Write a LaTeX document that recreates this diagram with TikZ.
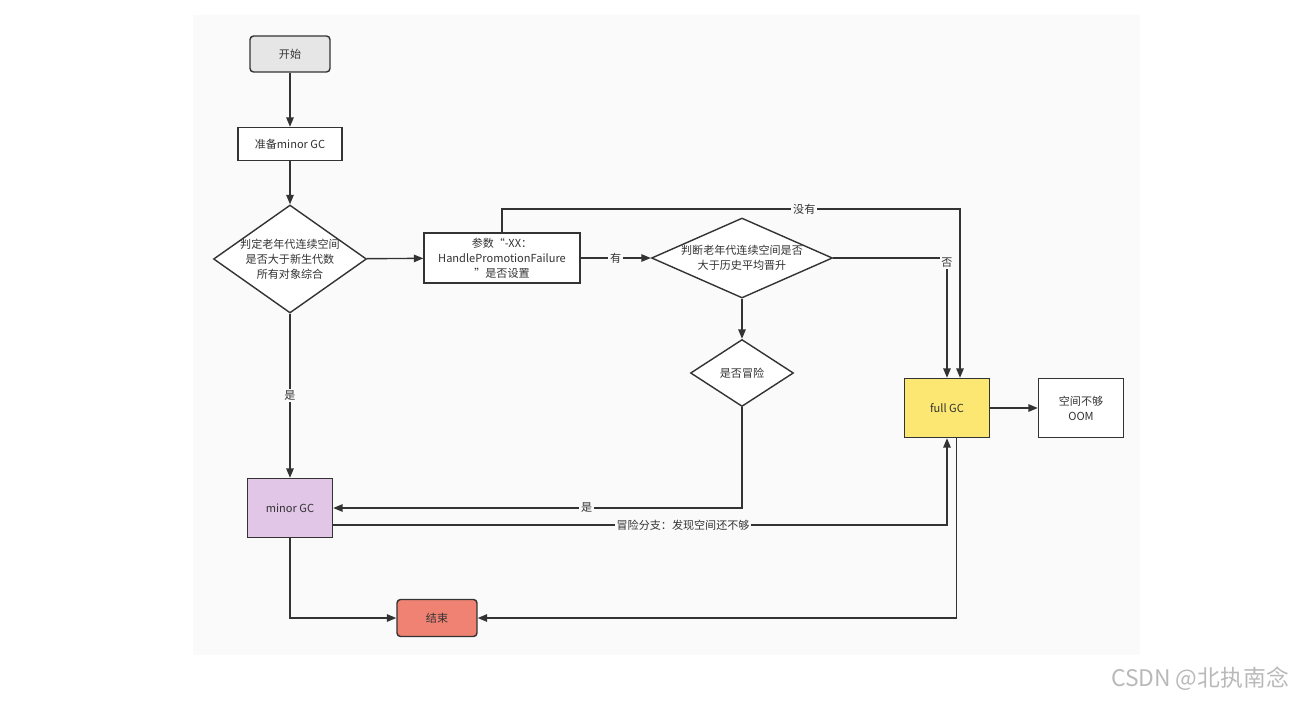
\documentclass[tikz,border=0pt]{standalone}
\usepackage{fontspec}
\setmainfont{Noto Sans CJK SC}
\usepackage{tikz}
\usetikzlibrary{positioning,calc,arrows.meta,shapes.geometric}
\definecolor{ink}{HTML}{333333}
\definecolor{paper}{HTML}{FAFAFA}
\definecolor{startgray}{HTML}{E6E6E6}
\definecolor{minorlilac}{HTML}{E1C6E8}
\definecolor{fullyellow}{HTML}{FBE772}
\definecolor{endsalmon}{HTML}{EF8272}
\tikzset{>={Triangle[length=1.9mm,width=1.5mm]}}

\begin{document}
\begin{tikzpicture}[x=0.02cm,y=-0.02cm,
  font=\fontsize{6.3}{8.5}\selectfont,
  every node/.style={text=ink},
  box/.style={draw=ink,line width=0.8pt,rectangle,inner sep=0pt,align=center},
  dia/.style={draw=ink,line width=0.8pt,diamond,inner sep=0pt,fill=white},
  lbl/.style={fill=paper,inner sep=1pt},
  flow/.style={draw=ink,line width=0.8pt,->}]
\useasboundingbox (0,0) rectangle (1295,700);
\fill[paper] (193,15) rectangle (1140,655);

\node[box,rounded corners=2pt,fill=startgray,minimum width=1.6cm,minimum height=0.72cm] (start) at (290,54) {开始};
\node[box,fill=white,minimum width=2.08cm,minimum height=0.66cm] (prep) at (290,144) {准备minor GC};
\node[dia,minimum width=3.06cm,minimum height=2.16cm,
  label={[align=center]center:判定老年代连续空间\\是否大于新生代数\\所有对象综合}] (cmpall) at (290,259) {};
\node[box,fill=white,minimum width=3.12cm,minimum height=1cm] (param) at (502,258) {参数“-XX：\\HandlePromotionFailure\\”是否设置};
\node[dia,minimum width=3.62cm,minimum height=1.6cm,
  label={[align=center]center:判断老年代连续空间是否\\大于历史平均晋升}] (cmpavg) at (742,258) {};
\node[dia,minimum width=2.06cm,minimum height=1.34cm,
  label={center:是否冒险}] (risk) at (742,373) {};
\node[box,fill=fullyellow,minimum width=1.7cm,minimum height=1.18cm] (full) at (947,408) {full GC};
\node[box,fill=white,minimum width=1.7cm,minimum height=1.18cm] (oom) at (1081,408) {空间不够\\OOM};
\node[box,fill=minorlilac,minimum width=1.7cm,minimum height=1.18cm] (minor) at (290,508) {minor GC};
\node[box,rounded corners=2pt,fill=endsalmon,minimum width=1.6cm,minimum height=0.74cm] (end) at (437,618) {结束};

\coordinate (noline) at (960,209);

\draw[flow] (start) -- (prep);
\draw[flow] (prep) -- (cmpall);
\draw[flow] (cmpall) -- (param);
\draw[flow] (cmpall) -- node[lbl]{是} (minor);
\draw[flow] (param) -- node[lbl]{有} (cmpavg);
\draw[flow] (param.north) |- node[lbl,pos=0.83]{没有} (noline) -- (noline |- full.north);
\draw[flow] (cmpavg.east) -| node[lbl,pos=0.52]{否} (full.north);
\draw[flow] (cmpavg) -- (risk);
\draw[flow] (risk.south) |- node[lbl,pos=0.69]{是} (minor.east);
\draw[flow] ([yshift=-0.34cm]minor.east) -| node[lbl,pos=0.285]{冒险分支：发现空间还不够} (full.south);
\draw[flow] (minor.south) |- (end.west);
\draw[flow] ([xshift=0.19cm]full.south) |- (end.east);
\draw[flow] (full) -- (oom);

\node[text=gray!55,font=\fontsize{13}{15}\selectfont] (mark) at (1200,679) {CSDN @北执南念};
\end{tikzpicture}
\end{document}
